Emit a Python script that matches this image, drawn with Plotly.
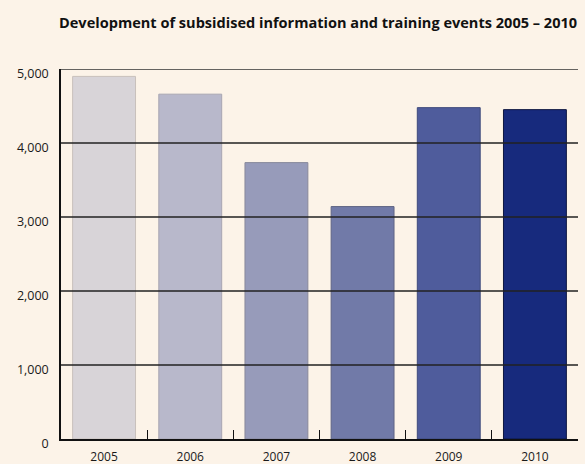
import plotly.graph_objects as go

years = ["2005", "2006", "2007", "2008", "2009", "2010"]
events = [4900, 4660, 3735, 3141, 4478, 4451]
bar_colors = ["#d8d4d8", "#b8b8cb", "#979bba", "#717aa8", "#4f5c9c", "#172a7d"]
edge_colors = ["#c9c1bb", "#a8a6b2", "#88899c", "#5f6584", "#3f4a7c", "#0d1640"]
y_ticks = [0, 1000, 2000, 3000, 4000, 5000]
y_ticklabels = ["0", "1,000", "2,000", "3,000", "4,000", "5,000"]

FONT = "Open Sans"
BG = "#fcf3e8"

fig = go.Figure()
fig.add_trace(go.Bar(
    x=years, y=events,
    marker=dict(color=bar_colors, line=dict(color=edge_colors, width=1)),
    width=0.73,
    hoverinfo="x+y",
))

# gridlines drawn above bars
shapes = []
for v in y_ticks[1:-1]:
    shapes.append(dict(type="line", xref="paper", yref="y", x0=0, x1=1, y0=v, y1=v,
                       line=dict(color="#222222", width=1.3), layer="above"))
shapes.append(dict(type="line", xref="paper", yref="y", x0=0, x1=1, y0=y_ticks[-1], y1=y_ticks[-1],
                   line=dict(color="#333333", width=1.5), layer="above"))

fig.update_layout(
    width=585, height=464,
    margin=dict(l=61, r=7, t=69, b=25, autoexpand=False),
    paper_bgcolor=BG, plot_bgcolor=BG,
    showlegend=False,
    font=dict(family=FONT, size=12, color="#1a1a1a"),
    title=dict(text="<b>Development of subsidised information and training events 2005 – 2010</b>",
               x=59 / 585, xanchor="left", xref="container", y=0.951, yanchor="middle",
               yref="container",
               font=dict(family=FONT, size=14.55, color="#111111")),
    shapes=shapes,
    bargap=0.27,
)
fig.update_xaxes(
    type="category", automargin=False,
    showgrid=False, zeroline=False,
    showline=True, linecolor="#111111", linewidth=1.5,
    ticks="inside", tickson="boundaries", ticklen=9, tickwidth=1.2, tickcolor="#111111",
    tickfont=dict(family=FONT, size=12, color="#1a1a1a"),
    ticklabelstandoff=6,
)
fig.update_yaxes(
    range=[0, 5000], automargin=False,
    tickvals=y_ticks, ticktext=y_ticklabels,
    showgrid=False, zeroline=False,
    showline=True, linecolor="#111111", linewidth=1.5,
    ticks="", ticklabelstandoff=8, ticklabelshift=5,
    tickfont=dict(family=FONT, size=12.5, color="#1a1a1a"),
)

fig.write_html("out.html", config={"displayModeBar": False},
               post_script="document.body.style.margin='0';document.body.style.background='#fcf3e8';")
